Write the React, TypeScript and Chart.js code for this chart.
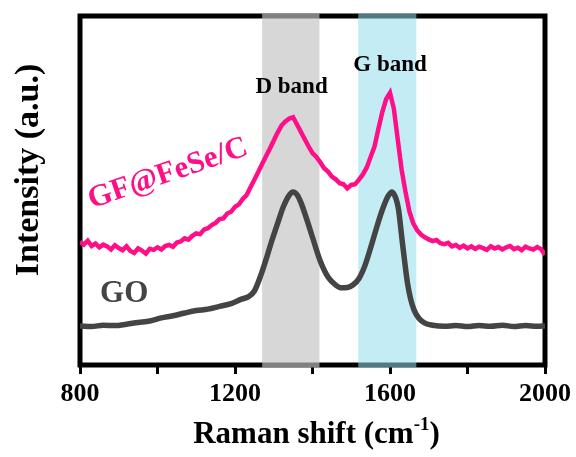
import React, { useEffect, useRef } from "react";
import { Chart, registerables } from "chart.js";

Chart.register(...registerables);

// Raman shift sampling for the GF@FeSe/C spectrum (cm^-1)
const GF_SHIFT = [
  800, 810, 820, 830, 840, 850, 860, 870, 880, 890,
  900, 910, 920, 930, 940, 950, 960, 970, 980, 990,
  1000, 1010, 1020, 1030, 1040, 1050, 1060, 1070, 1080, 1090,
  1100, 1110, 1120, 1130, 1140, 1150, 1160, 1170, 1180, 1190,
  1200, 1210, 1220, 1230, 1240, 1250, 1260, 1270, 1280, 1290,
  1300, 1310, 1320, 1330, 1340, 1350, 1360, 1370, 1380, 1390,
  1400, 1410, 1420, 1430, 1440, 1450, 1460, 1470, 1480, 1490,
  1500, 1510, 1520, 1530, 1540, 1550, 1560, 1570, 1580, 1590,
  1600, 1610, 1620, 1630, 1640, 1650, 1660, 1670, 1680, 1690,
  1700, 1710, 1720, 1730, 1740, 1750, 1760, 1770, 1780, 1790,
  1800, 1810, 1820, 1830, 1840, 1850, 1860, 1870, 1880, 1890,
  1900, 1910, 1920, 1930, 1940, 1950, 1960, 1970, 1980, 1990,
  2000,
];

// GF@FeSe/C intensity (a.u., offset trace)
const GF_INTENSITY = [
  35.3, 34.5, 35.6, 34.1, 34.8, 33.7, 34.5, 34.0, 33.1, 34.3,
  33.5, 32.9, 34.0, 32.7, 32.1, 33.4, 32.8, 31.9, 33.3, 33.0,
  33.7, 33.1, 34.1, 34.4, 33.9, 35.1, 35.4, 36.3, 35.9, 37.0,
  37.7, 37.5, 38.8, 39.2, 40.1, 40.7, 41.8, 42.0, 43.4, 43.9,
  45.3, 46.0, 47.6, 48.7, 50.9, 53.1, 55.3, 57.6, 59.8, 62.0,
  64.3, 66.6, 68.6, 69.8, 70.6, 71.0, 68.9, 66.8, 64.7, 62.6,
  60.7, 59.6, 58.1, 56.4, 55.4, 54.0, 53.2, 52.1, 51.8, 50.6,
  51.6, 51.8, 53.1, 54.6, 56.6, 59.6, 62.6, 67.6, 72.4, 76.2,
  78.0, 73.4, 64.6, 56.0, 49.6, 44.0, 40.6, 38.6, 37.4, 36.6,
  36.0, 35.5, 35.8, 34.9, 34.6, 35.0, 34.0, 34.4, 33.6, 34.2,
  33.4, 34.0, 33.3, 33.9, 33.5, 33.0, 34.0, 33.4, 33.8, 33.1,
  33.7, 34.1, 33.2, 33.6, 32.9, 33.9, 33.4, 33.1, 33.8, 33.2,
  31.6,
];

// Raman shift sampling for the GO spectrum (cm^-1)
const GO_SHIFT = [
  800, 830, 860, 890, 920, 950, 980, 1010, 1040, 1070,
  1100, 1130, 1160, 1190, 1215, 1235, 1250, 1265, 1280, 1295,
  1310, 1325, 1340, 1350, 1360, 1370, 1385, 1400, 1420, 1440,
  1460, 1475, 1490, 1505, 1520, 1535, 1550, 1565, 1580, 1595,
  1605, 1615, 1622, 1630, 1638, 1645, 1653, 1662, 1675, 1690,
  1710, 1740, 1770, 1800, 1830, 1860, 1890, 1920, 1950, 1980,
  2000,
];

// GO intensity (a.u.)
const GO_INTENSITY = [
  11.2, 11.0, 11.4, 11.3, 11.7, 12.2, 12.6, 13.5, 14.1, 14.9,
  15.6, 16.0, 16.8, 17.6, 18.8, 19.6, 21.2, 25.2, 30.2, 35.6,
  40.6, 45.4, 48.7, 49.6, 48.8, 46.6, 41.8, 36.6, 29.8, 25.2,
  22.9, 22.1, 22.2, 23.0, 24.8, 28.4, 33.6, 39.2, 44.4, 48.4,
  49.6, 47.8, 44.6, 37.0, 29.5, 23.6, 19.0, 15.8, 13.3, 12.0,
  11.4, 11.1, 11.3, 11.0, 11.3, 11.1, 11.4, 11.0, 11.3, 11.1,
  11.2,
];

// Highlighted spectral regions (cm^-1)
const BAND_NAMES = ["D band", "G band"];
const BAND_START = [1270, 1518];
const BAND_END = [1418, 1668];

// x-axis ticks
const X_MIN = 800;
const X_MAX = 2000;
const X_STEP = 200;
const X_LABEL_STEP = 400;

const SERIF = '"Liberation Serif", "Times New Roman", Times, serif';
const PINK = "#ff0f87";
const GREY = "#444444";
const BAND_FILL = ["rgba(195,195,195,0.66)", "rgba(147,220,237,0.55)"];

// text annotations placed in data coordinates
const NOTES = [
  { text: "D band", x: 1346, y: 79.7, color: "#000", size: 23, angle: 0 },
  { text: "G band", x: 1600, y: 86.0, color: "#000", size: 23, angle: 0 },
  { text: "GF@FeSe/C", x: 1027, y: 54.8, color: PINK, size: 31, angle: -19 },
  { text: "GO", x: 914, y: 20.4, color: GREY, size: 31, angle: 0 },
];

const decorations = {
  id: "decorations",
  beforeDatasetsDraw(chart: any) {
    const { ctx, chartArea: a, scales } = chart;
    const xs = scales.x;
    ctx.save();
    // frame around the plot
    ctx.lineWidth = 5;
    ctx.strokeStyle = "#000";
    ctx.strokeRect(a.left, a.top, a.right - a.left, a.bottom - a.top);
    // shaded bands
    BAND_NAMES.forEach((_, i) => {
      const x0 = xs.getPixelForValue(BAND_START[i]);
      const x1 = xs.getPixelForValue(BAND_END[i]);
      ctx.fillStyle = BAND_FILL[i];
      ctx.fillRect(x0, a.top - 2.5, x1 - x0, a.bottom - a.top + 5);
    });
    ctx.restore();
  },
  afterDatasetsDraw(chart: any) {
    const { ctx, scales } = chart;
    ctx.save();
    ctx.textAlign = "center";
    ctx.textBaseline = "middle";
    for (const n of NOTES) {
      const px = scales.x.getPixelForValue(n.x);
      const py = scales.y.getPixelForValue(n.y);
      ctx.save();
      ctx.translate(px, py);
      ctx.rotate((n.angle * Math.PI) / 180);
      ctx.font = `bold ${n.size}px ${SERIF}`;
      ctx.fillStyle = n.color;
      ctx.fillText(n.text, 0, 0);
      ctx.restore();
    }
    ctx.restore();
  },
  afterDraw(chart: any) {
    const { ctx, chartArea: a } = chart;
    ctx.save();
    ctx.fillStyle = "#000";
    // y-axis title
    ctx.save();
    ctx.translate(a.left - 51, a.top + 154);
    ctx.rotate(-Math.PI / 2);
    ctx.font = `bold 34px ${SERIF}`;
    ctx.textAlign = "center";
    ctx.textBaseline = "middle";
    ctx.fillText("Intensity (a.u.)", 0, 0);
    ctx.restore();
    // x-axis title with superscript
    const main = `bold 31px ${SERIF}`;
    const sup = `bold 19px ${SERIF}`;
    const p1 = "Raman shift (cm";
    const p2 = "-1";
    const p3 = ")";
    ctx.textBaseline = "alphabetic";
    ctx.textAlign = "left";
    ctx.font = main;
    const w1 = ctx.measureText(p1).width;
    const w3 = ctx.measureText(p3).width;
    ctx.font = sup;
    const w2 = ctx.measureText(p2).width;
    const total = w1 + w2 + w3;
    const cx = (a.left + a.right) / 2 + 4;
    const base = a.bottom + 78;
    let x = cx - total / 2;
    ctx.font = main;
    ctx.fillText(p1, x, base);
    x += w1;
    ctx.font = sup;
    ctx.fillText(p2, x, base - 13);
    x += w2;
    ctx.font = main;
    ctx.fillText(p3, x, base);
    ctx.restore();
  },
};

export default function App() {
  const canvasRef = useRef<HTMLCanvasElement | null>(null);

  useEffect(() => {
    const canvas = canvasRef.current;
    if (!canvas) return;
    const chart = new Chart(canvas, {
      type: "line",
      data: {
        datasets: [
          {
            label: "GF@FeSe/C",
            data: GF_SHIFT.map((s, i) => ({ x: s, y: GF_INTENSITY[i] })),
            borderColor: PINK,
            borderWidth: 4.5,
            pointRadius: 0,
            tension: 0,
          },
          {
            label: "GO",
            data: GO_SHIFT.map((s, i) => ({ x: s, y: GO_INTENSITY[i] })),
            borderColor: GREY,
            borderWidth: 5.5,
            pointRadius: 0,
            cubicInterpolationMode: "monotone",
          },
        ],
      },
      options: {
        animation: false,
        responsive: false,
        devicePixelRatio: 1,
        layout: { padding: { top: 16, right: 31, bottom: 0, left: 0 } },
        plugins: { legend: { display: false }, tooltip: { enabled: false } },
        scales: {
          x: {
            type: "linear",
            min: X_MIN,
            max: X_MAX,
            border: { display: false },
            grid: {
              drawOnChartArea: false,
              drawTicks: true,
              tickLength: 9,
              tickWidth: 3,
              tickColor: "#000",
            },
            ticks: {
              stepSize: X_STEP,
              autoSkip: false,
              maxRotation: 0,
              padding: 5,
              color: "#000",
              font: { family: SERIF, size: 26, weight: "bold" },
              callback: (v: any) => (Number(v) % X_LABEL_STEP === 0 ? String(v) : ""),
            },
            afterFit: (s: any) => {
              s.height = 92;
            },
          },
          y: {
            min: 0,
            max: 100,
            border: { display: false },
            grid: { display: false },
            ticks: { display: false },
            afterFit: (s: any) => {
              s.width = 80;
            },
          },
        },
      },
      plugins: [decorations],
    });
    return () => chart.destroy();
  }, []);

  return (
    <div style={{ position: "absolute", left: 0, top: 0, width: 576, height: 457, background: "#fff" }}>
      <canvas ref={canvasRef} width={576} height={457} />
    </div>
  );
}
